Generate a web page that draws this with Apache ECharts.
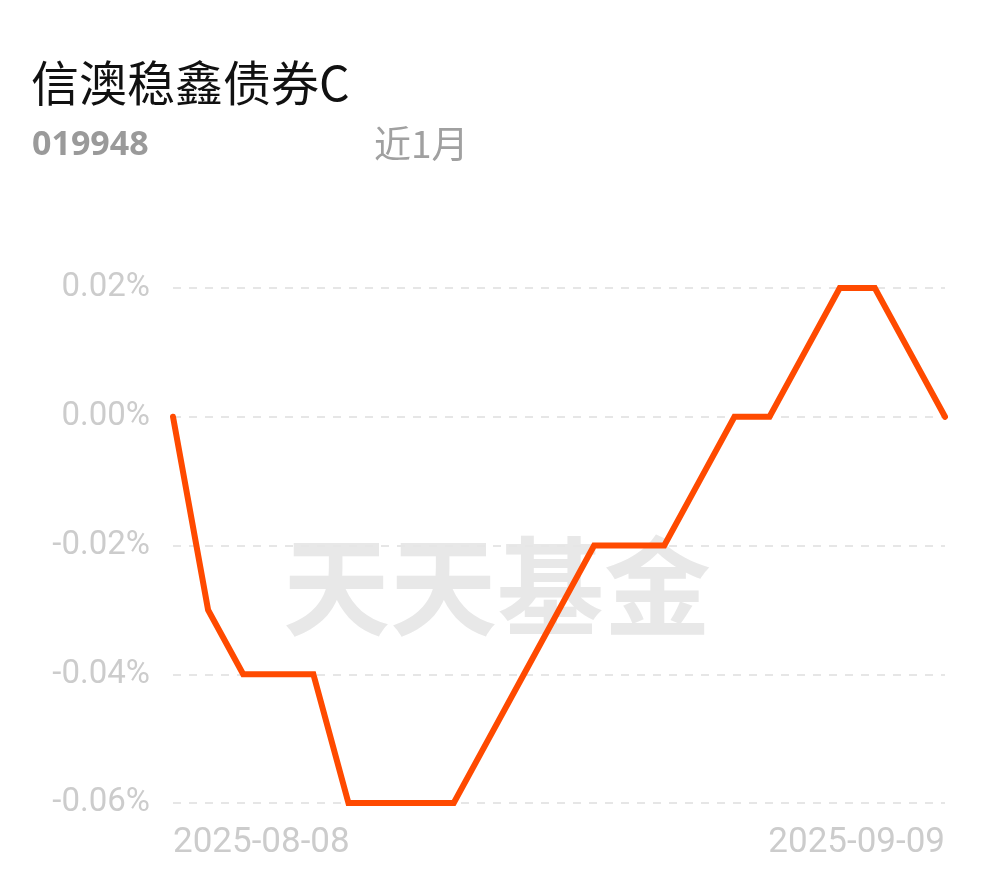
<!DOCTYPE html>
<html>
<head>
<meta charset="utf-8">
<script src="https://cdn.jsdelivr.net/npm/echarts@6/dist/echarts.min.js"></script>
<style>
html,body{margin:0;padding:0;background:#fff;}
#main{width:990px;height:878px;}
</style>
</head>
<body>
<div id="main"></div>
<script>
var fundName = '信澳稳鑫债券C';
var fundCode = '019948';
var periodLabel = '近1月';
var watermarkText = '天天基金';
var dates = ['2025-08-08','2025-08-11','2025-08-12','2025-08-13','2025-08-14','2025-08-15',
  '2025-08-18','2025-08-19','2025-08-20','2025-08-21','2025-08-22',
  '2025-08-25','2025-08-26','2025-08-27','2025-08-28','2025-08-29',
  '2025-09-01','2025-09-02','2025-09-03','2025-09-04','2025-09-05',
  '2025-09-08','2025-09-09'];
var returns = [0.00,-0.03,-0.04,-0.04,-0.04,-0.06,
  -0.06,-0.06,-0.06,-0.05,-0.04,
  -0.03,-0.02,-0.02,-0.02,-0.01,
  0.00,0.00,0.01,0.02,0.02,
  0.01,0.00];
var yMin = -0.06, yMax = 0.02, yStep = 0.02;

var chart = echarts.init(document.getElementById('main'));
var last = dates.length - 1;
chart.setOption({
  backgroundColor: '#ffffff',
  animation: false,
  grid: {left: 173, right: 45, top: 288, bottom: 75, containLabel: false},
  graphic: [
    {type: 'text', left: 31, top: 59, z: 10,
     style: {text: fundName, font: '48px "Noto Sans CJK SC", sans-serif', fill: '#111'}},
    {type: 'text', left: 32, top: 128, z: 10,
     style: {text: fundCode, font: 'bold 34px "Noto Sans", sans-serif', fill: '#9a9a9a'}},
    {type: 'text', left: 374, top: 125, z: 10,
     style: {text: periodLabel, font: '37px "Noto Sans CJK SC", sans-serif', fill: '#a0a0a0'}},
    {type: 'text', left: 283, top: 533, z: -10, silent: true,
     style: {text: watermarkText, font: 'bold 107px "Noto Sans CJK SC", sans-serif', fill: '#e8e8e8'}}
  ],
  xAxis: {
    type: 'category',
    data: dates,
    boundaryGap: false,
    axisLine: {show: false},
    axisTick: {show: false},
    splitLine: {show: false},
    axisLabel: {
      interval: function (i) { return i === 0 || i === last; },
      alignMinLabel: 'left',
      alignMaxLabel: 'right',
      color: '#cccccc',
      fontSize: 35,
      fontFamily: 'Roboto, sans-serif',
      margin: 23
    }
  },
  yAxis: {
    type: 'value',
    min: yMin, max: yMax, interval: yStep,
    axisLine: {show: false},
    axisTick: {show: false},
    splitLine: {lineStyle: {color: '#e6e6e6', type: [8, 8], width: 2}},
    axisLabel: {
      color: '#cccccc',
      fontSize: 33,
      fontFamily: 'Roboto, sans-serif',
      margin: 23,
      formatter: function (v) { return (Math.round(v * 100) / 100).toFixed(2) + '%'; }
    }
  },
  series: [{
    type: 'line',
    data: returns,
    showSymbol: false,
    symbol: 'none',
    lineStyle: {color: '#ff4a00', width: 6, cap: 'round', join: 'miter'},
    z: 5
  }]
});
</script>
</body>
</html>
